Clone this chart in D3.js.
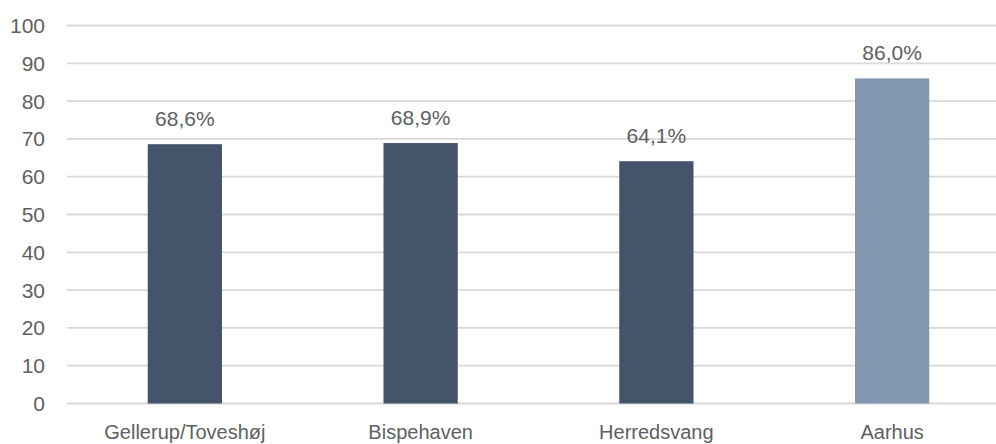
<!DOCTYPE html>
<html>
<head>
<meta charset="utf-8">
<script src="https://cdn.jsdelivr.net/npm/d3@7"></script>
<style>
  html, body { margin: 0; padding: 0; background: #fff; }
  svg { display: block; }
  text { font-family: "Liberation Sans", Arial, sans-serif; fill: #606060; }
</style>
</head>
<body>
<div id="chart"></div>
<script>
// Data
const categories = ['Gellerup/Toveshøj', 'Bispehaven', 'Herredsvang', 'Aarhus'];
const values = [68.6, 68.9, 64.1, 86.0];
const barColors = ['#44546a', '#44546a', '#44546a', '#8497b0'];
const yTicks = [0, 10, 20, 30, 40, 50, 60, 70, 80, 90, 100];

const width = 996, height = 444;

const svg = d3.select('#chart').append('svg')
  .attr('width', width)
  .attr('height', height);

const x = d3.scaleBand()
  .domain(categories)
  .range([67, 1010])
  .padding(0);

const y = d3.scaleLinear()
  .domain([0, 100])
  .range([403.5, 25.5]);

const barWidth = x.bandwidth() * 0.315;

// gridlines
svg.append('g')
  .selectAll('line')
  .data(yTicks)
  .join('line')
  .attr('x1', 67)
  .attr('x2', width)
  .attr('y1', d => y(d))
  .attr('y2', d => y(d))
  .attr('stroke', '#d9d9d9')
  .attr('stroke-width', 1.8);

// y axis labels
svg.append('g')
  .selectAll('text')
  .data(yTicks)
  .join('text')
  .attr('x', 45)
  .attr('y', d => y(d))
  .attr('dy', '0.36em')
  .attr('text-anchor', 'end')
  .style('font-size', '21px')
  .text(d => d);

// bars
svg.append('g')
  .selectAll('rect')
  .data(values)
  .join('rect')
  .attr('x', (d, i) => x(categories[i]) + x.bandwidth() / 2 - barWidth / 2)
  .attr('y', d => y(d))
  .attr('width', barWidth)
  .attr('height', d => y(0) - y(d))
  .attr('fill', (d, i) => barColors[i]);

// value labels
const fmt = d => d.toFixed(1).replace('.', ',') + '%';
svg.append('g')
  .selectAll('text')
  .data(values)
  .join('text')
  .attr('x', (d, i) => x(categories[i]) + x.bandwidth() / 2)
  .attr('y', d => y(d) - 18)
  .attr('text-anchor', 'middle')
  .style('font-size', '21px')
  .text(fmt);

// category labels
svg.append('g')
  .selectAll('text')
  .data(categories)
  .join('text')
  .attr('x', d => x(d) + x.bandwidth() / 2)
  .attr('y', 439)
  .attr('text-anchor', 'middle')
  .style('font-size', '20px')
  .text(d => d);
</script>
</body>
</html>
